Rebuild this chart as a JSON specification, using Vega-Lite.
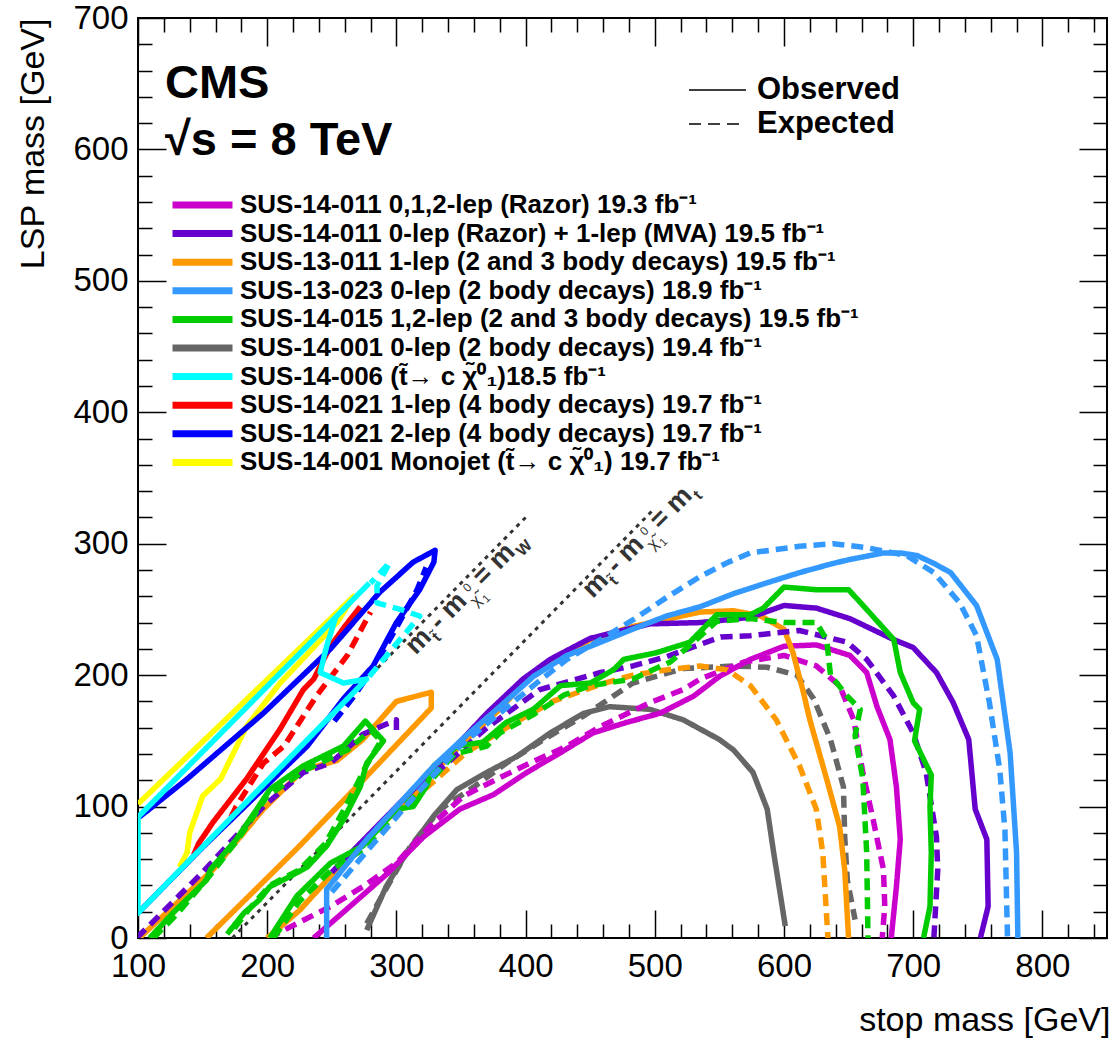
{
"$schema":"https://vega.github.io/schema/vega-lite/v6.json",
"width":969,"height":920,
"autosize":{"type":"none"},
"padding":{"left":138,"top":18,"right":9,"bottom":104},
"background":"white",
"config":{"view":{"stroke":"black","strokeWidth":2},
"axis":{"domain":false,"grid":false,"tickColor":"black","tickWidth":1.5,"labelFont":"Liberation Sans","labelFontSize":33,"labelColor":"black","labelFlush":false,"labelOverlap":false,"titleFont":"Liberation Sans","titleFontSize":34,"titleFontWeight":"normal","titleColor":"black"},
"legend":{"padding":0}},
"datasets":{
"meta":[
{"c":"gye","s":"SUS-14-001 0-lep (2 body decays) 19.4 fb⁻¹","t":"Expected"},
{"c":"gyo","s":"SUS-14-001 0-lep (2 body decays) 19.4 fb⁻¹","t":"Observed"},
{"c":"mge","s":"SUS-14-011 0,1,2-lep (Razor) 19.3 fb⁻¹","t":"Expected"},
{"c":"mgo","s":"SUS-14-011 0,1,2-lep (Razor) 19.3 fb⁻¹","t":"Observed"},
{"c":"ore","s":"SUS-13-011 1-lep (2 and 3 body decays) 19.5 fb⁻¹","t":"Expected"},
{"c":"oro","s":"SUS-13-011 1-lep (2 and 3 body decays) 19.5 fb⁻¹","t":"Observed"},
{"c":"ori","s":"SUS-13-011 1-lep (2 and 3 body decays) 19.5 fb⁻¹","t":"Observed"},
{"c":"pue","s":"SUS-14-011 0-lep (Razor) + 1-lep (MVA) 19.5 fb⁻¹","t":"Expected"},
{"c":"puo","s":"SUS-14-011 0-lep (Razor) + 1-lep (MVA) 19.5 fb⁻¹","t":"Observed"},
{"c":"pui","s":"SUS-14-011 0-lep (Razor) + 1-lep (MVA) 19.5 fb⁻¹","t":"Expected"},
{"c":"gne","s":"SUS-14-015 1,2-lep (2 and 3 body decays) 19.5 fb⁻¹","t":"Expected"},
{"c":"gnie","s":"SUS-14-015 1,2-lep (2 and 3 body decays) 19.5 fb⁻¹","t":"Expected"},
{"c":"gno","s":"SUS-14-015 1,2-lep (2 and 3 body decays) 19.5 fb⁻¹","t":"Observed"},
{"c":"gnio","s":"SUS-14-015 1,2-lep (2 and 3 body decays) 19.5 fb⁻¹","t":"Observed"},
{"c":"lbe","s":"SUS-13-023 0-lep (2 body decays) 18.9 fb⁻¹","t":"Expected"},
{"c":"lbo","s":"SUS-13-023 0-lep (2 body decays) 18.9 fb⁻¹","t":"Observed"},
{"c":"ylo","s":"SUS-14-001 Monojet (t̃→ c χ̃⁰₁) 19.7 fb⁻¹","t":"Observed"},
{"c":"rde","s":"SUS-14-021 1-lep (4 body decays) 19.7 fb⁻¹","t":"Expected"},
{"c":"rdo","s":"SUS-14-021 1-lep (4 body decays) 19.7 fb⁻¹","t":"Observed"},
{"c":"ble","s":"SUS-14-021 2-lep (4 body decays) 19.7 fb⁻¹","t":"Expected"},
{"c":"blo","s":"SUS-14-021 2-lep (4 body decays) 19.7 fb⁻¹","t":"Observed"},
{"c":"cye","s":"SUS-14-006 (t̃→ c χ̃⁰₁)18.5 fb⁻¹","t":"Expected"},
{"c":"cyo","s":"SUS-14-006 (t̃→ c χ̃⁰₁)18.5 fb⁻¹","t":"Observed"}
],
"pts":[
{"c":"gye","i":0,"x":277,"y":11},{"c":"gye","i":1,"x":290,"y":34},{"c":"gye","i":2,"x":311,"y":70},{"c":"gye","i":3,"x":334,"y":98},{"c":"gye","i":4,"x":360,"y":115},{"c":"gye","i":5,"x":385,"y":133},{"c":"gye","i":6,"x":414,"y":151},{"c":"gye","i":7,"x":445,"y":169},{"c":"gye","i":8,"x":483,"y":194},{"c":"gye","i":9,"x":522,"y":205},{"c":"gye","i":10,"x":561,"y":207},{"c":"gye","i":11,"x":587,"y":206},{"c":"gye","i":12,"x":610,"y":200},{"c":"gye","i":13,"x":623,"y":182},{"c":"gye","i":14,"x":636,"y":151},{"c":"gye","i":15,"x":646,"y":115},{"c":"gye","i":16,"x":647,"y":77},{"c":"gye","i":17,"x":649,"y":44},{"c":"gye","i":18,"x":655,"y":14},
{"c":"gyo","i":0,"x":277,"y":6},{"c":"gyo","i":1,"x":292,"y":39},{"c":"gyo","i":2,"x":308,"y":65},{"c":"gyo","i":3,"x":329,"y":93},{"c":"gyo","i":4,"x":347,"y":113},{"c":"gyo","i":5,"x":370,"y":126},{"c":"gyo","i":6,"x":393,"y":138},{"c":"gyo","i":7,"x":419,"y":156},{"c":"gyo","i":8,"x":445,"y":171},{"c":"gyo","i":9,"x":465,"y":176},{"c":"gyo","i":10,"x":496,"y":174},{"c":"gyo","i":11,"x":522,"y":166},{"c":"gyo","i":12,"x":550,"y":151},{"c":"gyo","i":13,"x":561,"y":143},{"c":"gyo","i":14,"x":576,"y":126},{"c":"gyo","i":15,"x":587,"y":98},{"c":"gyo","i":16,"x":592,"y":65},{"c":"gyo","i":17,"x":597,"y":34},{"c":"gyo","i":18,"x":601,"y":9},
{"c":"mge","i":0,"x":201,"y":0},{"c":"mge","i":1,"x":213,"y":6},{"c":"mge","i":2,"x":249,"y":24},{"c":"mge","i":3,"x":274,"y":39},{"c":"mge","i":4,"x":300,"y":57},{"c":"mge","i":5,"x":326,"y":85},{"c":"mge","i":6,"x":352,"y":108},{"c":"mge","i":7,"x":378,"y":121},{"c":"mge","i":8,"x":403,"y":133},{"c":"mge","i":9,"x":432,"y":146},{"c":"mge","i":10,"x":458,"y":161},{"c":"mge","i":11,"x":496,"y":179},{"c":"mge","i":12,"x":522,"y":189},{"c":"mge","i":13,"x":535,"y":197},{"c":"mge","i":14,"x":569,"y":210},{"c":"mge","i":15,"x":600,"y":215},{"c":"mge","i":16,"x":625,"y":207},{"c":"mge","i":17,"x":643,"y":192},{"c":"mge","i":18,"x":654,"y":166},{"c":"mge","i":19,"x":661,"y":126},{"c":"mge","i":20,"x":669,"y":90},{"c":"mge","i":21,"x":677,"y":52},{"c":"mge","i":22,"x":678,"y":24},{"c":"mge","i":23,"x":676,"y":0},
{"c":"mgo","i":0,"x":236,"y":0},{"c":"mgo","i":1,"x":264,"y":24},{"c":"mgo","i":2,"x":293,"y":49},{"c":"mgo","i":3,"x":321,"y":77},{"c":"mgo","i":4,"x":349,"y":98},{"c":"mgo","i":5,"x":375,"y":109},{"c":"mgo","i":6,"x":401,"y":126},{"c":"mgo","i":7,"x":427,"y":141},{"c":"mgo","i":8,"x":452,"y":156},{"c":"mgo","i":9,"x":478,"y":164},{"c":"mgo","i":10,"x":504,"y":171},{"c":"mgo","i":11,"x":530,"y":184},{"c":"mgo","i":12,"x":550,"y":199},{"c":"mgo","i":13,"x":574,"y":212},{"c":"mgo","i":14,"x":600,"y":222},{"c":"mgo","i":15,"x":625,"y":223},{"c":"mgo","i":16,"x":651,"y":215},{"c":"mgo","i":17,"x":664,"y":202},{"c":"mgo","i":18,"x":672,"y":176},{"c":"mgo","i":19,"x":682,"y":151},{"c":"mgo","i":20,"x":687,"y":115},{"c":"mgo","i":21,"x":690,"y":75},{"c":"mgo","i":22,"x":687,"y":39},{"c":"mgo","i":23,"x":683,"y":0},
{"c":"ore","i":0,"x":300,"y":95},{"c":"ore","i":1,"x":330,"y":120},{"c":"ore","i":2,"x":354,"y":141},{"c":"ore","i":3,"x":390,"y":163},{"c":"ore","i":4,"x":421,"y":180},{"c":"ore","i":5,"x":458,"y":193},{"c":"ore","i":6,"x":483,"y":200},{"c":"ore","i":7,"x":509,"y":204},{"c":"ore","i":8,"x":535,"y":207},{"c":"ore","i":9,"x":556,"y":204},{"c":"ore","i":10,"x":574,"y":192},{"c":"ore","i":11,"x":594,"y":166},{"c":"ore","i":12,"x":612,"y":131},{"c":"ore","i":13,"x":625,"y":98},{"c":"ore","i":14,"x":630,"y":65},{"c":"ore","i":15,"x":634,"y":0},
{"c":"oro","i":0,"x":200,"y":0},{"c":"oro","i":1,"x":225,"y":21},{"c":"oro","i":2,"x":251,"y":49},{"c":"oro","i":3,"x":277,"y":75},{"c":"oro","i":4,"x":303,"y":100},{"c":"oro","i":5,"x":329,"y":126},{"c":"oro","i":6,"x":354,"y":151},{"c":"oro","i":7,"x":380,"y":174},{"c":"oro","i":8,"x":406,"y":202},{"c":"oro","i":9,"x":450,"y":227},{"c":"oro","i":10,"x":483,"y":237},{"c":"oro","i":11,"x":535,"y":248},{"c":"oro","i":12,"x":561,"y":249},{"c":"oro","i":13,"x":582,"y":245},{"c":"oro","i":14,"x":600,"y":235},{"c":"oro","i":15,"x":607,"y":217},{"c":"oro","i":16,"x":615,"y":187},{"c":"oro","i":17,"x":620,"y":166},{"c":"oro","i":18,"x":633,"y":121},{"c":"oro","i":19,"x":643,"y":85},{"c":"oro","i":20,"x":647,"y":52},{"c":"oro","i":21,"x":650,"y":0},
{"c":"ori","i":0,"x":101,"y":0},{"c":"ori","i":1,"x":158,"y":52},{"c":"ori","i":2,"x":197,"y":98},{"c":"ori","i":3,"x":228,"y":128},{"c":"ori","i":4,"x":254,"y":135},{"c":"ori","i":5,"x":274,"y":151},{"c":"ori","i":6,"x":300,"y":180},{"c":"ori","i":7,"x":327,"y":187},{"c":"ori","i":8,"x":327,"y":175},{"c":"ori","i":9,"x":275,"y":121},{"c":"ori","i":10,"x":223,"y":68},{"c":"ori","i":11,"x":153,"y":0},
{"c":"pue","i":0,"x":330,"y":125},{"c":"pue","i":1,"x":370,"y":160},{"c":"pue","i":2,"x":411,"y":189},{"c":"pue","i":3,"x":458,"y":202},{"c":"pue","i":4,"x":483,"y":207},{"c":"pue","i":5,"x":509,"y":214},{"c":"pue","i":6,"x":551,"y":229},{"c":"pue","i":7,"x":574,"y":230},{"c":"pue","i":8,"x":612,"y":234},{"c":"pue","i":9,"x":649,"y":225},{"c":"pue","i":10,"x":664,"y":212},{"c":"pue","i":11,"x":685,"y":184},{"c":"pue","i":12,"x":700,"y":156},{"c":"pue","i":13,"x":710,"y":126},{"c":"pue","i":14,"x":718,"y":77},{"c":"pue","i":15,"x":719,"y":52},{"c":"pue","i":16,"x":716,"y":0},
{"c":"puo","i":0,"x":250,"y":50},{"c":"puo","i":1,"x":300,"y":100},{"c":"puo","i":2,"x":350,"y":150},{"c":"puo","i":3,"x":370,"y":171},{"c":"puo","i":4,"x":398,"y":197},{"c":"puo","i":5,"x":419,"y":212},{"c":"puo","i":6,"x":450,"y":228},{"c":"puo","i":7,"x":496,"y":239},{"c":"puo","i":8,"x":535,"y":240},{"c":"puo","i":9,"x":574,"y":244},{"c":"puo","i":10,"x":600,"y":253},{"c":"puo","i":11,"x":625,"y":251},{"c":"puo","i":12,"x":651,"y":243},{"c":"puo","i":13,"x":685,"y":227},{"c":"puo","i":14,"x":700,"y":221},{"c":"puo","i":15,"x":718,"y":202},{"c":"puo","i":16,"x":731,"y":179},{"c":"puo","i":17,"x":743,"y":151},{"c":"puo","i":18,"x":748,"y":98},{"c":"puo","i":19,"x":757,"y":75},{"c":"puo","i":20,"x":758,"y":24},{"c":"puo","i":21,"x":752,"y":0},
{"c":"pui","i":0,"x":99,"y":0},{"c":"pui","i":1,"x":150,"y":50},{"c":"pui","i":2,"x":197,"y":100},{"c":"pui","i":3,"x":228,"y":126},{"c":"pui","i":4,"x":249,"y":133},{"c":"pui","i":5,"x":274,"y":155},{"c":"pui","i":6,"x":300,"y":166},{"c":"pui","i":7,"x":300,"y":156},
{"c":"gne","i":0,"x":205,"y":0},{"c":"gne","i":1,"x":225,"y":28},{"c":"gne","i":2,"x":250,"y":52},{"c":"gne","i":3,"x":275,"y":68},{"c":"gne","i":4,"x":300,"y":95},{"c":"gne","i":5,"x":325,"y":118},{"c":"gne","i":6,"x":345,"y":140},{"c":"gne","i":7,"x":370,"y":146},{"c":"gne","i":8,"x":380,"y":156},{"c":"gne","i":9,"x":406,"y":170},{"c":"gne","i":10,"x":430,"y":185},{"c":"gne","i":11,"x":450,"y":192},{"c":"gne","i":12,"x":483,"y":197},{"c":"gne","i":13,"x":512,"y":210},{"c":"gne","i":14,"x":530,"y":225},{"c":"gne","i":15,"x":548,"y":241},{"c":"gne","i":16,"x":574,"y":243},{"c":"gne","i":17,"x":600,"y":240},{"c":"gne","i":18,"x":625,"y":240},{"c":"gne","i":19,"x":633,"y":227},{"c":"gne","i":20,"x":636,"y":200},{"c":"gne","i":21,"x":649,"y":184},{"c":"gne","i":22,"x":659,"y":174},{"c":"gne","i":23,"x":655,"y":154},{"c":"gne","i":24,"x":661,"y":121},{"c":"gne","i":25,"x":664,"y":65},{"c":"gne","i":26,"x":665,"y":0},
{"c":"gnie","i":0,"x":112,"y":0},{"c":"gnie","i":1,"x":130,"y":18},{"c":"gnie","i":2,"x":156,"y":48},{"c":"gnie","i":3,"x":178,"y":76},{"c":"gnie","i":4,"x":200,"y":108},{"c":"gnie","i":5,"x":230,"y":128},{"c":"gnie","i":6,"x":262,"y":143},{"c":"gnie","i":7,"x":280,"y":158},{"c":"gnie","i":8,"x":288,"y":150},{"c":"gnie","i":9,"x":276,"y":130},{"c":"gnie","i":10,"x":270,"y":118},{"c":"gnie","i":11,"x":258,"y":95},{"c":"gnie","i":12,"x":245,"y":72},{"c":"gnie","i":13,"x":225,"y":52},{"c":"gnie","i":14,"x":202,"y":40},{"c":"gnie","i":15,"x":186,"y":22},{"c":"gnie","i":16,"x":172,"y":4},
{"c":"gno","i":0,"x":202,"y":0},{"c":"gno","i":1,"x":223,"y":32},{"c":"gno","i":2,"x":249,"y":57},{"c":"gno","i":3,"x":274,"y":70},{"c":"gno","i":4,"x":300,"y":98},{"c":"gno","i":5,"x":313,"y":100},{"c":"gno","i":6,"x":323,"y":115},{"c":"gno","i":7,"x":329,"y":131},{"c":"gno","i":8,"x":347,"y":146},{"c":"gno","i":9,"x":367,"y":149},{"c":"gno","i":10,"x":385,"y":164},{"c":"gno","i":11,"x":406,"y":174},{"c":"gno","i":12,"x":427,"y":192},{"c":"gno","i":13,"x":450,"y":194},{"c":"gno","i":14,"x":468,"y":204},{"c":"gno","i":15,"x":476,"y":212},{"c":"gno","i":16,"x":501,"y":217},{"c":"gno","i":17,"x":527,"y":225},{"c":"gno","i":18,"x":548,"y":246},{"c":"gno","i":19,"x":574,"y":246},{"c":"gno","i":20,"x":584,"y":251},{"c":"gno","i":21,"x":600,"y":267},{"c":"gno","i":22,"x":625,"y":265},{"c":"gno","i":23,"x":650,"y":265},{"c":"gno","i":24,"x":664,"y":250},{"c":"gno","i":25,"x":685,"y":227},{"c":"gno","i":26,"x":690,"y":202},{"c":"gno","i":27,"x":700,"y":179},{"c":"gno","i":28,"x":705,"y":174},{"c":"gno","i":29,"x":701,"y":150},{"c":"gno","i":30,"x":714,"y":124},{"c":"gno","i":31,"x":713,"y":100},{"c":"gno","i":32,"x":714,"y":65},{"c":"gno","i":33,"x":713,"y":24},{"c":"gno","i":34,"x":708,"y":0},
{"c":"gnio","i":0,"x":109,"y":0},{"c":"gnio","i":1,"x":127,"y":19},{"c":"gnio","i":2,"x":153,"y":44},{"c":"gnio","i":3,"x":156,"y":52},{"c":"gnio","i":4,"x":176,"y":75},{"c":"gnio","i":5,"x":192,"y":98},{"c":"gnio","i":6,"x":202,"y":113},{"c":"gnio","i":7,"x":228,"y":131},{"c":"gnio","i":8,"x":259,"y":146},{"c":"gnio","i":9,"x":276,"y":165},{"c":"gnio","i":10,"x":290,"y":150},{"c":"gnio","i":11,"x":277,"y":133},{"c":"gnio","i":12,"x":272,"y":115},{"c":"gnio","i":13,"x":259,"y":90},{"c":"gnio","i":14,"x":246,"y":70},{"c":"gnio","i":15,"x":231,"y":54},{"c":"gnio","i":16,"x":218,"y":47},{"c":"gnio","i":17,"x":202,"y":39},{"c":"gnio","i":18,"x":194,"y":29},{"c":"gnio","i":19,"x":182,"y":19},{"c":"gnio","i":20,"x":169,"y":3},
{"c":"lbe","i":0,"x":250,"y":35},{"c":"lbe","i":1,"x":285,"y":75},{"c":"lbe","i":2,"x":316,"y":110},{"c":"lbe","i":3,"x":349,"y":146},{"c":"lbe","i":4,"x":380,"y":171},{"c":"lbe","i":5,"x":406,"y":192},{"c":"lbe","i":6,"x":432,"y":212},{"c":"lbe","i":7,"x":458,"y":227},{"c":"lbe","i":8,"x":483,"y":242},{"c":"lbe","i":9,"x":509,"y":259},{"c":"lbe","i":10,"x":535,"y":275},{"c":"lbe","i":11,"x":557,"y":286},{"c":"lbe","i":12,"x":574,"y":293},{"c":"lbe","i":13,"x":612,"y":298},{"c":"lbe","i":14,"x":638,"y":300},{"c":"lbe","i":15,"x":664,"y":297},{"c":"lbe","i":16,"x":695,"y":291},{"c":"lbe","i":17,"x":716,"y":278},{"c":"lbe","i":18,"x":736,"y":255},{"c":"lbe","i":19,"x":749,"y":230},{"c":"lbe","i":20,"x":759,"y":179},{"c":"lbe","i":21,"x":767,"y":128},{"c":"lbe","i":22,"x":771,"y":82},{"c":"lbe","i":23,"x":773,"y":0},
{"c":"lbo","i":0,"x":246,"y":0},{"c":"lbo","i":1,"x":246,"y":37},{"c":"lbo","i":2,"x":277,"y":75},{"c":"lbo","i":3,"x":303,"y":103},{"c":"lbo","i":4,"x":329,"y":131},{"c":"lbo","i":5,"x":354,"y":154},{"c":"lbo","i":6,"x":380,"y":176},{"c":"lbo","i":7,"x":406,"y":199},{"c":"lbo","i":8,"x":432,"y":215},{"c":"lbo","i":9,"x":458,"y":225},{"c":"lbo","i":10,"x":483,"y":235},{"c":"lbo","i":11,"x":509,"y":245},{"c":"lbo","i":12,"x":535,"y":252},{"c":"lbo","i":13,"x":561,"y":262},{"c":"lbo","i":14,"x":586,"y":270},{"c":"lbo","i":15,"x":612,"y":278},{"c":"lbo","i":16,"x":638,"y":285},{"c":"lbo","i":17,"x":651,"y":288},{"c":"lbo","i":18,"x":677,"y":293},{"c":"lbo","i":19,"x":690,"y":293},{"c":"lbo","i":20,"x":703,"y":291},{"c":"lbo","i":21,"x":716,"y":285},{"c":"lbo","i":22,"x":729,"y":278},{"c":"lbo","i":23,"x":749,"y":253},{"c":"lbo","i":24,"x":765,"y":212},{"c":"lbo","i":25,"x":775,"y":141},{"c":"lbo","i":26,"x":780,"y":65},{"c":"lbo","i":27,"x":781,"y":0},
{"c":"ylo","i":0,"x":132,"y":54},{"c":"ylo","i":1,"x":138,"y":65},{"c":"ylo","i":2,"x":140,"y":80},{"c":"ylo","i":3,"x":150,"y":108},{"c":"ylo","i":4,"x":164,"y":121},{"c":"ylo","i":5,"x":184,"y":161},{"c":"ylo","i":6,"x":210,"y":194},{"c":"ylo","i":7,"x":254,"y":240},{"c":"ylo","i":8,"x":267,"y":260},{"c":"ylo","i":9,"x":100,"y":102},
{"c":"rde","i":0,"x":172,"y":92},{"c":"rde","i":1,"x":176,"y":100},{"c":"rde","i":2,"x":197,"y":133},{"c":"rde","i":3,"x":213,"y":146},{"c":"rde","i":4,"x":238,"y":184},{"c":"rde","i":5,"x":262,"y":215},{"c":"rde","i":6,"x":280,"y":248},
{"c":"rdo","i":0,"x":143,"y":63},{"c":"rdo","i":1,"x":147,"y":72},{"c":"rdo","i":2,"x":158,"y":88},{"c":"rdo","i":3,"x":184,"y":121},{"c":"rdo","i":4,"x":210,"y":159},{"c":"rdo","i":5,"x":228,"y":189},{"c":"rdo","i":6,"x":236,"y":197},{"c":"rdo","i":7,"x":249,"y":222},{"c":"rdo","i":8,"x":260,"y":237},{"c":"rdo","i":9,"x":272,"y":252},
{"c":"ble","i":0,"x":252,"y":165},{"c":"ble","i":1,"x":268,"y":185},{"c":"ble","i":2,"x":283,"y":207},{"c":"ble","i":3,"x":300,"y":236},{"c":"ble","i":4,"x":316,"y":265},{"c":"ble","i":5,"x":323,"y":282},
{"c":"blo","i":0,"x":101,"y":92},{"c":"blo","i":1,"x":138,"y":121},{"c":"blo","i":2,"x":197,"y":171},{"c":"blo","i":3,"x":249,"y":220},{"c":"blo","i":4,"x":287,"y":263},{"c":"blo","i":5,"x":313,"y":286},{"c":"blo","i":6,"x":330,"y":295},{"c":"blo","i":7,"x":329,"y":286},{"c":"blo","i":8,"x":318,"y":265},{"c":"blo","i":9,"x":300,"y":240},{"c":"blo","i":10,"x":282,"y":207},{"c":"blo","i":11,"x":259,"y":182},{"c":"blo","i":12,"x":231,"y":146},{"c":"blo","i":13,"x":150,"y":69},{"c":"blo","i":14,"x":101,"y":20},
{"c":"cye","i":0,"x":279,"y":199},{"c":"cye","i":1,"x":318,"y":245},{"c":"cye","i":2,"x":303,"y":250},{"c":"cye","i":3,"x":285,"y":255},{"c":"cye","i":4,"x":285,"y":268},{"c":"cye","i":5,"x":295,"y":286},{"c":"cye","i":6,"x":280,"y":270},
{"c":"cyo","i":0,"x":253,"y":244},{"c":"cyo","i":1,"x":246,"y":222},{"c":"cyo","i":2,"x":241,"y":202},{"c":"cyo","i":3,"x":259,"y":194},{"c":"cyo","i":4,"x":277,"y":197},{"c":"cyo","i":5,"x":100,"y":19},{"c":"cyo","i":6,"x":100,"y":92},{"c":"cyo","i":7,"x":279,"y":270}
],
"diag":[
{"k":"mW","i":0,"x":100,"y":20},{"k":"mW","i":1,"x":400,"y":320},
{"k":"mt","i":0,"x":173,"y":0},{"k":"mt","i":1,"x":500,"y":327}
],
"notes":[{"x":120.9,"y":639,"txt":"CMS"},{"x":120.9,"y":596,"txt":"√s = 8 TeV"}],
"dlab":[{"x":315,"y":215,"sub":"W"},{"x":452,"y":258,"sub":"t"}]
},
"layer":[
{"data":{"name":"diag"},
"mark":{"type":"line","color":"#333333","strokeWidth":3,"strokeDash":[4,5],"clip":true},
"encoding":{
"x":{"field":"x","type":"quantitative","scale":{"domain":[100,850],"nice":false,"zero":false},
"axis":{"orient":"bottom","values":[100,200,300,400,500,600,700,800],"tickSize":-28,"labelPadding":40,"title":"stop mass [GeV]","titleAnchor":"end","titleAlign":"right","titleX":972,"titleY":92,"titleBaseline":"alphabetic"}},
"y":{"field":"y","type":"quantitative","scale":{"domain":[0,700],"nice":false,"zero":false},
"axis":{"orient":"left","values":[0,100,200,300,400,500,600,700],"tickSize":-28,"labelPadding":38,"title":"LSP mass [GeV]","titleAnchor":"end","titleAlign":"right","titleAngle":-90,"titleX":-95,"titleY":0,"titleBaseline":"alphabetic"}},
"detail":{"field":"k"},
"order":{"field":"i","type":"quantitative"}}},
{"data":{"name":"pts"},
"transform":[{"lookup":"c","from":{"data":{"name":"meta"},"key":"c","fields":["s","t"]}}],
"mark":{"type":"line","strokeWidth":5.5,"clip":true,"strokeJoin":"round"},
"encoding":{
"x":{"field":"x","type":"quantitative","scale":{"domain":[100,850],"nice":false,"zero":false},
"axis":{"orient":"top","values":[100,200,300,400,500,600,700,800],"tickSize":-28,"labels":false,"title":null}},
"y":{"field":"y","type":"quantitative","scale":{"domain":[0,700],"nice":false,"zero":false},
"axis":{"orient":"right","values":[0,100,200,300,400,500,600,700],"tickSize":-28,"labels":false,"title":null}},
"color":{"field":"s","type":"nominal",
"scale":{"domain":["SUS-14-011 0,1,2-lep (Razor) 19.3 fb⁻¹","SUS-14-011 0-lep (Razor) + 1-lep (MVA) 19.5 fb⁻¹","SUS-13-011 1-lep (2 and 3 body decays) 19.5 fb⁻¹","SUS-13-023 0-lep (2 body decays) 18.9 fb⁻¹","SUS-14-015 1,2-lep (2 and 3 body decays) 19.5 fb⁻¹","SUS-14-001 0-lep (2 body decays) 19.4 fb⁻¹","SUS-14-006 (t̃→ c χ̃⁰₁)18.5 fb⁻¹","SUS-14-021 1-lep (4 body decays) 19.7 fb⁻¹","SUS-14-021 2-lep (4 body decays) 19.7 fb⁻¹","SUS-14-001 Monojet (t̃→ c χ̃⁰₁) 19.7 fb⁻¹"],
"range":["#CC00CC","#6600CC","#FF9900","#3399FF","#00CC00","#666666","#00FFFF","#FF0000","#0000FF","#FFFF00"]},
"legend":{"title":null,"orient":"none","legendX":31,"legendY":174,"clipHeight":26,"symbolType":"stroke","symbolSize":3600,"symbolStrokeWidth":7,"labelFont":"Liberation Sans","labelFontWeight":"bold","labelFontSize":26,"labelColor":"black","rowPadding":2.6,"labelOffset":4,"labelLimit":1000,"padding":0}},
"strokeDash":{"field":"t","type":"nominal","scale":{"domain":["Observed","Expected"],"range":[[1,0],[12,7]]},
"legend":{"title":null,"orient":"none","legendX":550,"legendY":57,"clipHeight":30,"symbolType":"stroke","symbolSize":3249,"symbolStrokeWidth":1.5,"symbolStrokeColor":"black","labelFont":"Liberation Sans","labelFontWeight":"bold","labelFontSize":31,"labelColor":"black","rowPadding":3,"labelOffset":10,"padding":0}},
"detail":{"field":"c"},
"order":{"field":"i","type":"quantitative"}}},
{"data":{"name":"notes"},
"mark":{"type":"text","font":"Liberation Sans","fontWeight":"bold","fontSize":47,"align":"left","baseline":"alphabetic","color":"black"},
"encoding":{
"x":{"field":"x","type":"quantitative","scale":{"domain":[100,850],"nice":false,"zero":false},
"axis":{"orient":"bottom","values":[120,140,160,180,220,240,260,280,320,340,360,380,420,440,460,480,520,540,560,580,620,640,660,680,720,740,760,780,820,840],"tickSize":-14,"labels":false,"title":null}},
"y":{"field":"y","type":"quantitative","scale":{"domain":[0,700],"nice":false,"zero":false},
"axis":{"orient":"left","values":[20,40,60,80,120,140,160,180,220,240,260,280,320,340,360,380,420,440,460,480,520,540,560,580,620,640,660,680],"tickSize":-14,"labels":false,"title":null}},
"text":{"field":"txt"}}},
{"data":{"name":"dlab"},
"mark":{"type":"text","font":"Liberation Sans","fontWeight":"bold","fontSize":27,"align":"left","baseline":"alphabetic","color":"#333333","angle":-45.4,"text":"m"},
"encoding":{
"x":{"field":"x","type":"quantitative","scale":{"domain":[100,850],"nice":false,"zero":false},
"axis":{"orient":"top","values":[120,140,160,180,220,240,260,280,320,340,360,380,420,440,460,480,520,540,560,580,620,640,660,680,720,740,760,780,820,840],"tickSize":-14,"labels":false,"title":null}},
"y":{"field":"y","type":"quantitative","scale":{"domain":[0,700],"nice":false,"zero":false},
"axis":{"orient":"right","values":[20,40,60,80,120,140,160,180,220,240,260,280,320,340,360,380,420,440,460,480,520,540,560,580,620,640,660,680],"tickSize":-14,"labels":false,"title":null}}}},
{"data":{"name":"dlab"},
"mark":{"type":"text","font":"Liberation Sans","fontWeight":"bold","fontSize":16,"align":"left","baseline":"alphabetic","color":"#333333","angle":-45.4,"text":"t̃","dx":25,"dy":7},
"encoding":{"x":{"field":"x","type":"quantitative","axis":null},"y":{"field":"y","type":"quantitative","axis":null}}},
{"data":{"name":"dlab"},
"mark":{"type":"text","font":"Liberation Sans","fontWeight":"bold","fontSize":27,"align":"left","baseline":"alphabetic","color":"#333333","angle":-45.4,"text":"- m","dx":34},
"encoding":{"x":{"field":"x","type":"quantitative","axis":null},"y":{"field":"y","type":"quantitative","axis":null}}},
{"data":{"name":"dlab"},
"mark":{"type":"text","font":"Liberation Sans","fontWeight":"normal","fontSize":16,"align":"left","baseline":"alphabetic","color":"#333333","angle":-45.4,"text":"χ̃","dx":77,"dy":9},
"encoding":{"x":{"field":"x","type":"quantitative","axis":null},"y":{"field":"y","type":"quantitative","axis":null}}},
{"data":{"name":"dlab"},
"mark":{"type":"text","font":"Liberation Sans","fontWeight":"normal","fontSize":12,"align":"left","baseline":"alphabetic","color":"#333333","angle":-45.4,"text":"0","dx":81,"dy":-7},
"encoding":{"x":{"field":"x","type":"quantitative","axis":null},"y":{"field":"y","type":"quantitative","axis":null}}},
{"data":{"name":"dlab"},
"mark":{"type":"text","font":"Liberation Sans","fontWeight":"normal","fontSize":11,"align":"left","baseline":"alphabetic","color":"#333333","angle":-45.4,"text":"1","dx":87,"dy":14},
"encoding":{"x":{"field":"x","type":"quantitative","axis":null},"y":{"field":"y","type":"quantitative","axis":null}}},
{"data":{"name":"dlab"},
"mark":{"type":"text","font":"Liberation Sans","fontWeight":"bold","fontSize":27,"align":"left","baseline":"alphabetic","color":"#333333","angle":-45.4,"text":"= m","dx":96},
"encoding":{"x":{"field":"x","type":"quantitative","axis":null},"y":{"field":"y","type":"quantitative","axis":null}}},
{"data":{"name":"dlab"},
"mark":{"type":"text","font":"Liberation Sans","fontWeight":"bold","fontSize":16,"align":"left","baseline":"alphabetic","color":"#333333","angle":-45.4,"dx":145,"dy":7},
"encoding":{"x":{"field":"x","type":"quantitative","axis":null},"y":{"field":"y","type":"quantitative","axis":null},"text":{"field":"sub"}}}
],
"resolve":{"axis":{"x":"independent","y":"independent"}}
}
